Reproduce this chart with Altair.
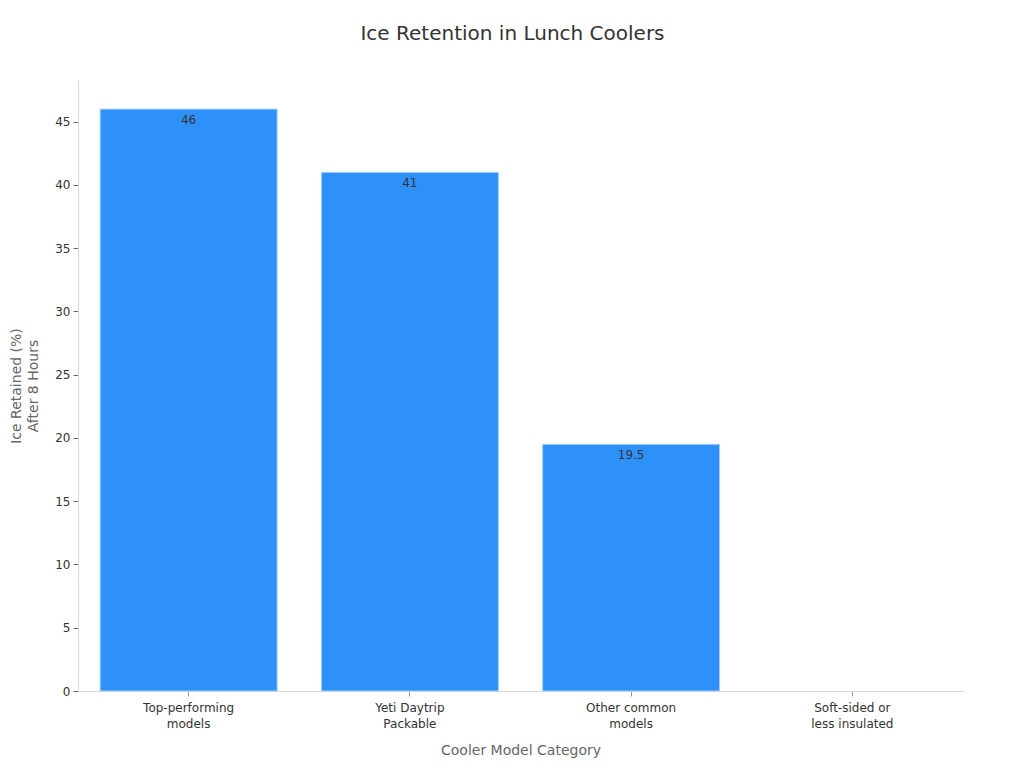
import altair as alt
import pandas as pd

categories = ["Top-performing\nmodels", "Yeti Daytrip\nPackable", "Other common\nmodels", "Soft-sided or\nless insulated"]
values = [46, 41, 19.5, 0]
labels = ["46", "41", "19.5", ""]

df = pd.DataFrame({"category": categories, "value": values, "label": labels})

FONT = "DejaVu Sans"

x = alt.X("category:N", sort=categories, title="Cooler Model Category",
          scale=alt.Scale(paddingInner=0.2, paddingOuter=0.1),
          axis=alt.Axis(labelAngle=0, labelExpr="split(datum.label, '\\n')",
                        labelFontSize=12, labelColor="#333333", labelPadding=6,
                        titleFontSize=14, titleColor="#666666", titleFontWeight="normal",
                        titlePadding=14, domainColor="#d9d9d9", tickColor="#999999",
                        tickSize=5, labelLineHeight=16))
y = alt.Y("value:Q", title=["Ice Retained (%)", "After 8 Hours"],
          scale=alt.Scale(domain=[0, 48.3], nice=False),
          axis=alt.Axis(values=[0, 5, 10, 15, 20, 25, 30, 35, 40, 45], grid=False,
                        labelFontSize=12, labelColor="#333333", labelPadding=3,
                        titleFontSize=14, titleColor="#666666", titleFontWeight="normal",
                        titlePadding=14, domainColor="#d9d9d9", tickColor="#666666",
                        tickSize=5, titleLineHeight=17))

bars = alt.Chart(df).mark_bar(color="#2e91fa", stroke="#a9d1f7", strokeWidth=1).encode(
    x=x, y=y,
    strokeOpacity=alt.condition("datum.value > 0", alt.value(1), alt.value(0)))
text = alt.Chart(df).mark_text(baseline="top", dy=6, fontSize=12, color="#333333", font=FONT).encode(
    x=alt.X("category:N", sort=categories), y="value:Q", text="label:N")

chart = (bars + text).properties(
    width=885, height=611,
    title=alt.TitleParams("Ice Retention in Lunch Coolers", fontSize=20, fontWeight="normal",
                          color="#333333", font=FONT, offset=36, dx=-8),
    padding={"left": 70, "top": 72, "right": 53, "bottom": 69},
    autosize=alt.AutoSizeParams(type="none"),
).configure(font=FONT).configure_view(stroke=None)

chart.save("out.html", embed_options={"renderer": "svg", "actions": False})
